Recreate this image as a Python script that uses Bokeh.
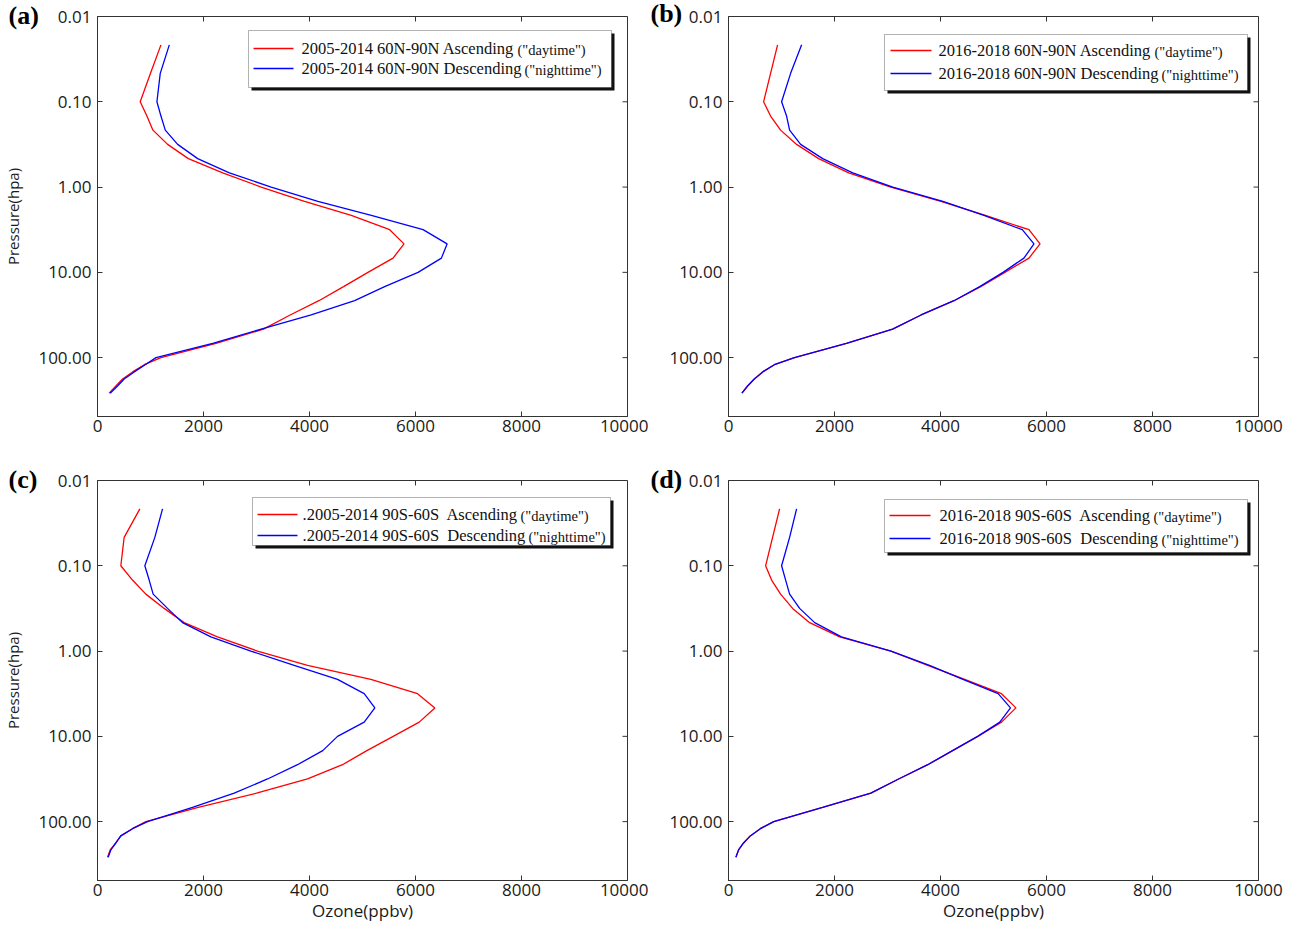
import math
from bokeh.plotting import figure
from bokeh.layouts import column, row
from bokeh.models import (Range1d, FixedTicker, PrintfTickFormatter, Title,
                          Label, BoxAnnotation, ColumnDataSource)
from bokeh.embed import file_html
from bokeh.resources import INLINE

# ---------------- data ----------------
LEVELS = [0.0215, 0.0464, 0.1, 0.147, 0.215, 0.316, 0.464, 0.681, 1.0, 1.47, 2.15,
          3.16, 4.64, 6.81, 10, 14.7, 21.5, 31.6, 46.4, 68.1, 100, 121, 147, 178, 215, 261]

A_ASC = [1197, 1000, 806, 932, 1046, 1323, 1714, 2363, 3087, 3906, 4788, 5513, 5783,
         5576, 5103, 4643, 4177, 3635, 3131, 2237, 1197, 882, 662, 473, 347, 220]
A_DESC = [1355, 1184, 1121, 1197, 1279, 1512, 1890, 2489, 3276, 4158, 5166, 6143, 6596,
          6489, 6048, 5418, 4851, 4032, 3087, 2174, 1103, 900, 693, 504, 378, 239]

B_ASC = [926, 794, 662, 794, 983, 1285, 1701, 2268, 3062, 4008, 4847, 5669, 5878,
         5669, 5214, 4759, 4254, 3634, 3097, 2225, 1245, 866, 645, 487, 360, 253]
B_DESC = [1380, 1172, 1002, 1096, 1153, 1361, 1777, 2344, 3100, 4045, 4820, 5543, 5764,
          5574, 5180, 4740, 4254, 3634, 3097, 2225, 1245, 866, 645, 487, 360, 253]

C_ASC = [799, 503, 440, 660, 912, 1258, 1635, 2264, 3019, 3963, 5158, 6038, 6365,
         6070, 5579, 5082, 4623, 3963, 3000, 1900, 912, 660, 440, 346, 239, 189]
C_DESC = [1227, 1082, 893, 975, 1050, 1321, 1604, 2139, 2893, 3711, 4529, 5032, 5233,
          5032, 4529, 4250, 3774, 3208, 2579, 1793, 944, 660, 440, 346, 252, 201]

D_ASC = [964, 832, 700, 813, 983, 1210, 1531, 2098, 3065, 3760, 4456, 5151, 5423,
         5151, 4702, 4228, 3760, 3210, 2686, 1776, 853, 600, 411, 284, 190, 139]
D_DESC = [1285, 1153, 1002, 1078, 1153, 1342, 1626, 2130, 3065, 3792, 4424, 5088, 5321,
          5119, 4702, 4228, 3760, 3210, 2686, 1776, 853, 600, 411, 284, 190, 139]

X_TICKS = [0, 2000, 4000, 6000, 8000, 10000]
Y_TICKS = [0.01, 0.1, 1, 10, 100]
X_MAX = 10000
Y_TOP = 0.01
Y_BOTTOM = 490

PANEL_TAGS = ["(a)", "(b)", "(c)", "(d)"]
ASC_LABELS = ["2005-2014 60N-90N Ascending", "2016-2018 60N-90N Ascending",
              ".2005-2014 90S-60S\u00a0 Ascending", "2016-2018 90S-60S\u00a0 Ascending"]
DESC_LABELS = ["2005-2014 60N-90N Descending", "2016-2018 60N-90N Descending",
               ".2005-2014 90S-60S\u00a0 Descending", "2016-2018 90S-60S\u00a0 Descending"]
DAY_TEXT = '("daytime")'
NIGHT_TEXT = '("nighttime")'
Y_LABEL = "Pressure(hpa)"
X_LABEL = "Ozone(ppbv)"

# ---------------- layout / style ----------------
FW, FH = 530, 400
DEC = FH / math.log10(Y_BOTTOM / Y_TOP)
SANS = "Open Sans"
SERIF = "Liberation Serif"
RED = "#ff0000"
BLUE = "#0000ff"
AX = "#333333"
TXT = "#1a1a1a"
TICK = 5


def dx(px):
    return px / FW * X_MAX


def dy(py):
    return Y_TOP * 10 ** (py / DEC)


def style_axis(ax, standoff):
    ax.axis_line_color = AX
    ax.axis_line_width = 1
    ax.major_tick_in = TICK
    ax.major_tick_out = 0
    ax.major_tick_line_color = AX
    ax.minor_tick_line_color = None
    ax.major_label_standoff = standoff
    ax.major_label_text_font = SANS
    ax.major_label_text_font_size = "17px"
    ax.major_label_text_color = TXT


# borders (left, right, top, bottom); legend geometry in pixels relative to the
# frame's top-left corner; tag = (horizontal offset, title standoff)
CONF = [
    dict(mb=(97, 21, 16, 44), leg=(151, 514, 14, 71, 156, 196, 32, 52, 204, 420, 427),
         tag=(-89, -31), ylab=True, xlab=False),
    dict(mb=(80, 30, 16, 44), leg=(156, 519, 18, 74, 162, 203, 34, 57, 210, 426, 433),
         tag=(-78, -35), ylab=False, xlab=False),
    dict(mb=(97, 21, 20, 50), leg=(155, 513, 17, 65, 160, 200, 34, 55, 205, 423, 431),
         tag=(-89, -30), ylab=True, xlab=True),
    dict(mb=(80, 30, 20, 50), leg=(156, 519, 19, 72, 161, 202, 35, 58, 211, 425, 433),
         tag=(-78, -31), ylab=False, xlab=True),
]

SERIES = [(A_ASC, A_DESC), (B_ASC, B_DESC), (C_ASC, C_DESC), (D_ASC, D_DESC)]


def make_panel(i):
    c = CONF[i]
    asc, desc = SERIES[i]
    l, r, t, b = c["mb"]
    p = figure(frame_width=FW, frame_height=FH,
               x_range=Range1d(0, X_MAX), y_range=Range1d(Y_BOTTOM, Y_TOP),
               y_axis_type="log", output_backend="svg", toolbar_location=None,
               min_border_left=l, min_border_right=r, min_border_top=t,
               min_border_bottom=b, background_fill_color="white",
               border_fill_color="white", outline_line_color=AX,
               outline_line_width=1)
    p.grid.visible = False

    xa = p.xaxis[0]
    xa.ticker = FixedTicker(ticks=X_TICKS)
    style_axis(xa, 3)
    ya = p.yaxis[0]
    ya.ticker = FixedTicker(ticks=Y_TICKS)
    ya.formatter = PrintfTickFormatter(format="%.2f")
    style_axis(ya, 6)
    if c["ylab"]:
        ya.axis_label = Y_LABEL
        ya.axis_label_text_font = SANS
        ya.axis_label_text_font_size = "15px"
        ya.axis_label_text_font_style = "normal"
        ya.axis_label_text_color = TXT
        ya.axis_label_standoff = 12
    if c["xlab"]:
        xa.axis_label = X_LABEL
        xa.axis_label_text_font = SANS
        xa.axis_label_text_font_size = "17px"
        xa.axis_label_text_font_style = "normal"
        xa.axis_label_text_color = TXT
        xa.axis_label_standoff = 0

    # panel tag as a left-aligned title pulled down beside the frame's top edge
    off, stand = c["tag"]
    p.add_layout(Title(text=PANEL_TAGS[i], align="left", offset=off, standoff=stand,
                       vertical_align="top", text_font=SERIF, text_font_size="26px",
                       text_font_style="bold", text_color="black"), "above")

    # inward ticks on the top and right frame edges
    p.segment(x0=X_TICKS, x1=X_TICKS, y0=[Y_TOP] * len(X_TICKS),
              y1=[dy(TICK)] * len(X_TICKS), line_color=AX, line_width=1)
    p.segment(x0=[X_MAX] * len(Y_TICKS), x1=[X_MAX - dx(TICK)] * len(Y_TICKS),
              y0=Y_TICKS, y1=Y_TICKS, line_color=AX, line_width=1)

    # legend box (drawn below glyphs)
    bl, br, bt, bb, lx0, lx1, r1, r2, tx, p1, p2 = c["leg"]
    p.add_layout(BoxAnnotation(left=dx(bl + 3), right=dx(br + 3), top=dy(bt + 3),
                               bottom=dy(bb + 3), fill_color="#111111", fill_alpha=1,
                               line_color=None, level="underlay"))
    p.add_layout(BoxAnnotation(left=dx(bl), right=dx(br), top=dy(bt), bottom=dy(bb),
                               fill_color="white", fill_alpha=1, line_color="black",
                               line_width=1, level="underlay"))

    src_a = ColumnDataSource(dict(x=asc, y=LEVELS))
    src_d = ColumnDataSource(dict(x=desc, y=LEVELS))
    p.line("x", "y", source=src_a, line_color=RED, line_width=1.3)
    p.line("x", "y", source=src_d, line_color=BLUE, line_width=1.3)

    # legend keys
    p.line([dx(lx0), dx(lx1)], [dy(r1), dy(r1)], line_color=RED, line_width=1.5)
    p.line([dx(lx0), dx(lx1)], [dy(r2), dy(r2)], line_color=BLUE, line_width=1.3)
    for txt, yy in ((ASC_LABELS[i], r1), (DESC_LABELS[i], r2)):
        p.add_layout(Label(x=dx(tx), y=dy(yy), text=txt, text_font=SERIF,
                           text_font_size="16.5px", text_color="#111111",
                           text_align="left", text_baseline="middle"))
    p.add_layout(Label(x=dx(p1), y=dy(r1 + 1), text=DAY_TEXT, text_font=SERIF,
                       text_font_size="14.5px", text_color="#111111",
                       text_align="left", text_baseline="middle"))
    p.add_layout(Label(x=dx(p2), y=dy(r2 + 1), text=NIGHT_TEXT, text_font=SERIF,
                       text_font_size="14.5px", text_color="#111111",
                       text_align="left", text_baseline="middle"))
    return p


panels = [make_panel(i) for i in range(4)]
layout = column(row(panels[0], panels[1]), row(panels[2], panels[3]))
open("out.html", "w").write(file_html(layout, INLINE))
